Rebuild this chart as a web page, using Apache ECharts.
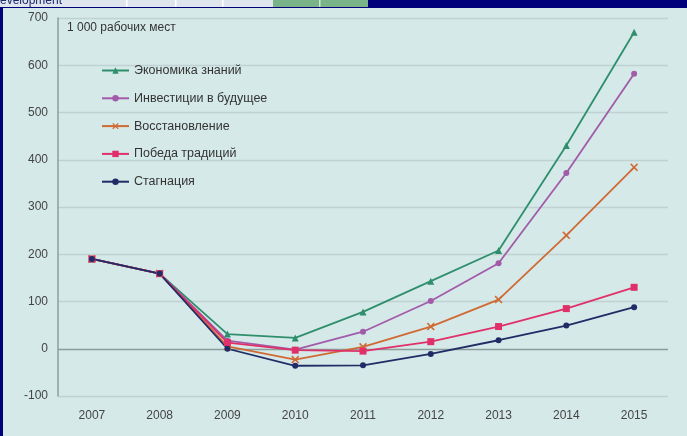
<!DOCTYPE html>
<html>
<head>
<meta charset="utf-8">
<script src="https://cdn.jsdelivr.net/npm/echarts@6/dist/echarts.min.js"></script>
<style>
html,body{margin:0;padding:0;background:#00007a;}
#c{width:687px;height:436px;}
</style>
</head>
<body>
<div id="c"></div>
<script>
var years = ['2007','2008','2009','2010','2011','2012','2013','2014','2015'];
var knowledge = [190, 159, 31, 23, 78, 143, 208, 430, 670];
var investment = [190, 159, 17, -2, 36, 101, 181, 372, 582];
var recovery = [190, 159, 5, -23, 4, 47, 104, 240, 384];
var tradition = [190, 159, 13, -3, -5, 15, 47, 85, 130];
var stagnation = [190, 159, 0, -36, -35, -11, 18, 49, 88];
var yTicks = [-100, 0, 100, 200, 300, 400, 500, 600, 700];
var names = ['Экономика знаний', 'Инвестиции в будущее', 'Восстановление', 'Победа традиций', 'Стагнация'];

var xPath = 'path://M0,1.4L1.4,0L5,3.6L8.6,0L10,1.4L6.4,5L10,8.6L8.6,10L5,6.4L1.4,10L0,8.6L3.6,5Z';

function mk(name, data, color, symbol, size) {
  return {
    name: name, type: 'line', data: data,
    symbol: symbol, symbolSize: size, showAllSymbol: true,
    lineStyle: {color: color, width: 1.8},
    itemStyle: {color: color},
    emphasis: {disabled: true}
  };
}

var chart = echarts.init(document.getElementById('c'));
var gridColors = yTicks.map(function (v) { return v === 0 ? '#8c9d9c' : '#bfd2d1'; });
var font = '"Liberation Sans", Arial, sans-serif';

chart.setOption({
  backgroundColor: '#00007a',
  animation: false,
  graphic: [
    {type: 'rect', shape: {x: 3, y: 8, width: 684, height: 428}, style: {fill: '#d5e9e8'}, z: -10},
    {type: 'rect', shape: {x: 0, y: 0, width: 368, height: 7}, style: {fill: '#dfe5ec'}, z: -10},
    {type: 'rect', shape: {x: 273, y: 0, width: 95, height: 7}, style: {fill: '#78b488'}, z: -9},
    {type: 'rect', shape: {x: 126, y: 0, width: 1.5, height: 7}, style: {fill: '#ffffff'}, z: -8},
    {type: 'rect', shape: {x: 175, y: 0, width: 1.5, height: 7}, style: {fill: '#ffffff'}, z: -8},
    {type: 'rect', shape: {x: 222, y: 0, width: 1.5, height: 7}, style: {fill: '#ffffff'}, z: -8},
    {type: 'rect', shape: {x: 319, y: 0, width: 1.5, height: 7}, style: {fill: '#cfe6d4'}, z: -8},
    {type: 'text', left: 0, top: -5, style: {text: 'evelopment', fill: '#1c2a6e', font: '12px ' + font}, z: -7},
    {type: 'text', left: 67, top: 22, style: {text: '1 000 рабочих мест', fill: '#333333', font: '12px ' + font}}
  ],
  grid: {left: 58, right: 19, top: 18, bottom: 40},
  legend: {
    data: names,
    orient: 'vertical',
    left: 96, top: 59,
    itemWidth: 27, itemHeight: 8, itemGap: 14.8,
    textStyle: {color: '#333333', fontSize: 12.5, fontFamily: font}
  },
  xAxis: {
    type: 'category', data: years, boundaryGap: true,
    axisLine: {show: false}, axisTick: {show: false},
    axisLabel: {color: '#444444', fontSize: 12, margin: 14, fontFamily: font}
  },
  yAxis: {
    type: 'value', min: -100, max: 700, interval: 100,
    axisLine: {show: true, lineStyle: {color: '#8c9d9c', width: 1.5}},
    axisTick: {show: false},
    axisLabel: {color: '#444444', fontSize: 12, margin: 10, fontFamily: font},
    splitLine: {show: true, lineStyle: {color: gridColors, width: 1.3}}
  },
  series: [
    mk(names[0], knowledge, '#2f8f6c', 'triangle', 7),
    mk(names[1], investment, '#a25ba8', 'circle', 6),
    mk(names[2], recovery, '#d06a34', xPath, 8),
    mk(names[3], tradition, '#e0306a', 'rect', 7),
    mk(names[4], stagnation, '#1f2c66', 'circle', 6)
  ]
});
</script>
</body>
</html>
